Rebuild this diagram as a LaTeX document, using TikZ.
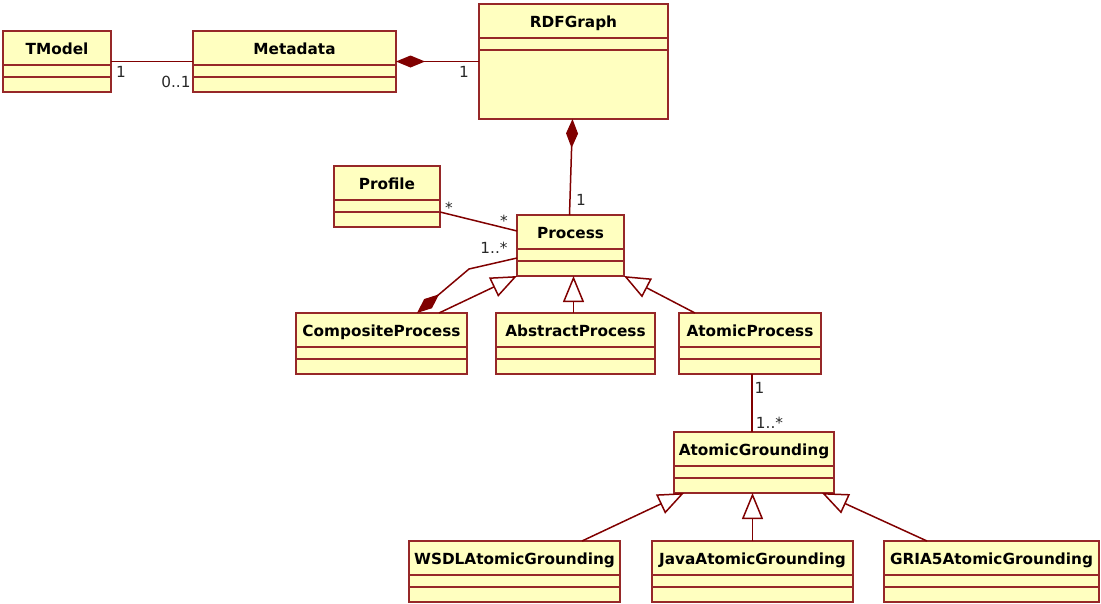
\documentclass[tikz,border=0pt]{standalone}
\usepackage{fontspec}
\setmainfont{DejaVu Sans}
\usetikzlibrary{arrows.meta,calc}

\definecolor{umlfill}{RGB}{255,255,192}
\definecolor{umlborder}{RGB}{150,40,40}
\definecolor{umlwire}{RGB}{128,0,0}
\definecolor{multtext}{RGB}{40,40,40}

\tikzset{
  classbox/.style={draw=umlborder, fill=umlfill, line width=1.5pt, rectangle,
    inner sep=0pt, outer sep=0pt, anchor=north west},
  classname/.style={anchor=base, inner sep=0pt,
    font=\fontsize{15.3}{18}\selectfont\bfseries},
  classline/.style={draw=umlborder, line width=1.5pt},
  wire/.style={draw=umlwire, line width=1.5pt},
  composition/.style={wire, {Diamond[length=29pt,width=12pt,fill=umlwire]}-},
  generalization/.style={wire, -{Triangle[open,length=26pt,width=21pt]}},
  mult/.style={anchor=base, inner sep=0pt, text=multtext,
    font=\fontsize{15.3}{18}\selectfont}
}

% \umlclass{name}{left}{top}{width}{height}{title}
\newcommand\umlclass[6]{%
  \node[classbox, minimum width=#4pt, minimum height=#5pt] (#1) at (#2,-#3) {};
  \node[classname] (#1-title) at ([yshift=-23pt]#1.north) {#6};
  \draw[classline] ([yshift=-34pt]#1.north west) -- ([yshift=-34pt]#1.north east);
  \draw[classline] ([yshift=-46pt]#1.north west) -- ([yshift=-46pt]#1.north east);
}

\begin{document}
\begin{tikzpicture}[x=1pt, y=1pt]
  \useasboundingbox (0,0) rectangle (1101,-603);

  % classes
  \umlclass{tmodel}{3}{31}{108}{61}{TModel}
  \umlclass{meta}{193}{31}{203}{61}{Metadata}
  \umlclass{rdf}{479}{4}{189}{115}{RDFGraph}
  \umlclass{profile}{334}{166}{106}{61}{Profile}
  \umlclass{proc}{517}{215}{107}{61}{Process}
  \umlclass{comp}{296}{313}{171}{61}{CompositeProcess}
  \umlclass{abs}{496}{313}{159}{61}{AbstractProcess}
  \umlclass{atom}{679}{313}{142}{61}{AtomicProcess}
  \umlclass{ground}{674}{432}{160}{61}{AtomicGrounding}
  \umlclass{wsdl}{409}{541}{211}{61}{WSDLAtomicGrounding}
  \umlclass{java}{652}{541}{201}{61}{JavaAtomicGrounding}
  \umlclass{gria}{884}{541}{215}{61}{GRIA5AtomicGrounding}

  % associations and compositions
  \draw[wire] (tmodel.east) -- (meta.west);
  \draw[composition] (meta.east) -- (rdf.west |- meta.east);
  \draw[composition] ([xshift=-1pt]rdf.south) -- ([xshift=-1pt]proc.north);
  \draw[wire] ([yshift=15pt]profile.south east) -- ([yshift=-16pt]proc.north west);
  \coordinate (compbend) at (469,-269);
  \draw[composition] ([xshift=121pt]comp.north west) -- (compbend)
        -- ([yshift=-43pt]proc.north west);
  \draw[wire] ([xshift=73pt]atom.south west) -- ([xshift=73pt]atom.south west |- ground.north);

  % generalizations
  \draw[generalization] ([xshift=143pt]comp.north west) -- (proc.south west);
  \draw[generalization] ([xshift=-2pt]abs.north) -- ([xshift=-2pt]abs.north |- proc.south);
  \draw[generalization] ([xshift=16pt]atom.north west) -- (proc.south east);
  \draw[generalization] ([xshift=173pt]wsdl.north west) -- ([xshift=10pt]ground.south west);
  \draw[generalization] (java.north) -- (java.north |- ground.south);
  \draw[generalization] ([xshift=43pt]gria.north west) -- ([xshift=-12pt]ground.south east);

  % multiplicities
  \node[mult] (m1) at (121,-77) {1};
  \node[mult] (m2) at (176,-87) {0..1};
  \node[mult] (m3) at (464,-77) {1};
  \node[mult] (m4) at (581,-205) {1};
  \node[mult] (m5) at (449,-213) {*};
  \node[mult] (m6) at (504,-226) {*};
  \node[mult] (m7) at (494,-253) {1..*};
  \node[mult] (m8) at (759.5,-393) {1};
  \node[mult] (m9) at (769.5,-428) {1..*};
\end{tikzpicture}
\end{document}
